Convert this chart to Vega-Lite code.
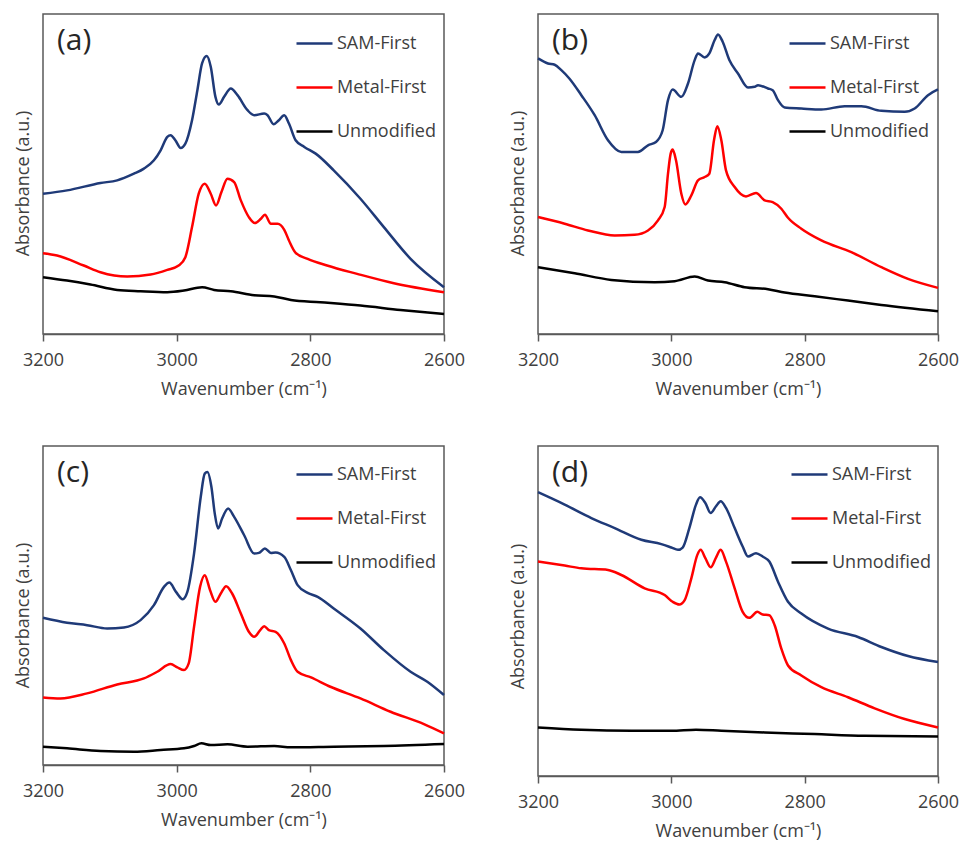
{
  "$schema": "https://vega.github.io/schema/vega-lite/v6.json",
  "background": "white",
  "padding": {"left": 13, "top": 13, "right": 5, "bottom": 2},
  "config": {
    "font": "Open Sans",
    "view": {"stroke": "#595959", "strokeWidth": 1.5},
    "axis": {"labelFont": "Open Sans", "titleFont": "Open Sans", "labelFontSize": 18, "titleFontSize": 18, "labelColor": "#404040", "titleColor": "#404040", "titleFontWeight": "normal", "domainColor": "#595959", "tickColor": "#595959", "domainWidth": 1.5, "tickWidth": 1.5, "grid": false},
    "legend": {"orient": "none", "title": null, "symbolType": "stroke", "symbolSize": 1296, "symbolStrokeWidth": 2.5, "labelFont": "Open Sans", "labelFontSize": 18, "labelColor": "#404040", "labelOffset": 3, "rowPadding": 15, "padding": 0},
    "title": {"anchor": "start", "frame": "group", "offset": -42, "dx": 14, "baseline": "top", "fontSize": 30, "fontWeight": "normal", "color": "#262626", "font": "Open Sans"},
    "line": {"strokeWidth": 2.5, "interpolate": "monotone"}
  },
  "datasets": {
    "a": [
      {"series":"SAM-First","wavenumber":3200,"absorbance":420},{"series":"SAM-First","wavenumber":3164,"absorbance":430},{"series":"SAM-First","wavenumber":3114,"absorbance":452},{"series":"SAM-First","wavenumber":3089,"absorbance":460},{"series":"SAM-First","wavenumber":3064,"absorbance":480},{"series":"SAM-First","wavenumber":3049,"absorbance":495},{"series":"SAM-First","wavenumber":3034,"absorbance":520},{"series":"SAM-First","wavenumber":3024,"absorbance":550},{"series":"SAM-First","wavenumber":3014,"absorbance":590},{"series":"SAM-First","wavenumber":3009,"absorbance":595},{"series":"SAM-First","wavenumber":3002,"absorbance":580},{"series":"SAM-First","wavenumber":2994,"absorbance":557},{"series":"SAM-First","wavenumber":2987,"absorbance":570},{"series":"SAM-First","wavenumber":2977,"absorbance":640},{"series":"SAM-First","wavenumber":2969,"absorbance":730},{"series":"SAM-First","wavenumber":2962,"absorbance":810},{"series":"SAM-First","wavenumber":2955,"absorbance":832},{"series":"SAM-First","wavenumber":2949,"absorbance":800},{"series":"SAM-First","wavenumber":2942,"absorbance":710},{"series":"SAM-First","wavenumber":2937,"absorbance":687},{"series":"SAM-First","wavenumber":2929,"absorbance":710},{"series":"SAM-First","wavenumber":2919,"absorbance":735},{"series":"SAM-First","wavenumber":2909,"absorbance":715},{"series":"SAM-First","wavenumber":2894,"absorbance":670},{"series":"SAM-First","wavenumber":2884,"absorbance":655},{"series":"SAM-First","wavenumber":2869,"absorbance":660},{"series":"SAM-First","wavenumber":2864,"absorbance":655},{"series":"SAM-First","wavenumber":2855,"absorbance":628},{"series":"SAM-First","wavenumber":2847,"absorbance":640},{"series":"SAM-First","wavenumber":2839,"absorbance":655},{"series":"SAM-First","wavenumber":2832,"absorbance":630},{"series":"SAM-First","wavenumber":2822,"absorbance":580},{"series":"SAM-First","wavenumber":2809,"absorbance":560},{"series":"SAM-First","wavenumber":2792,"absorbance":540},{"series":"SAM-First","wavenumber":2765,"absorbance":490},{"series":"SAM-First","wavenumber":2725,"absorbance":405},{"series":"SAM-First","wavenumber":2690,"absorbance":320},{"series":"SAM-First","wavenumber":2650,"absorbance":225},{"series":"SAM-First","wavenumber":2600,"absorbance":140},
      {"series":"Metal-First","wavenumber":3200,"absorbance":242},{"series":"Metal-First","wavenumber":3179,"absorbance":235},{"series":"Metal-First","wavenumber":3139,"absorbance":205},{"series":"Metal-First","wavenumber":3114,"absorbance":185},{"series":"Metal-First","wavenumber":3074,"absorbance":172},{"series":"Metal-First","wavenumber":3039,"absorbance":178},{"series":"Metal-First","wavenumber":3014,"absorbance":192},{"series":"Metal-First","wavenumber":2997,"absorbance":205},{"series":"Metal-First","wavenumber":2987,"absorbance":230},{"series":"Metal-First","wavenumber":2977,"absorbance":320},{"series":"Metal-First","wavenumber":2967,"absorbance":420},{"series":"Metal-First","wavenumber":2958,"absorbance":450},{"series":"Metal-First","wavenumber":2949,"absorbance":420},{"series":"Metal-First","wavenumber":2941,"absorbance":385},{"series":"Metal-First","wavenumber":2933,"absorbance":425},{"series":"Metal-First","wavenumber":2924,"absorbance":465},{"series":"Metal-First","wavenumber":2914,"absorbance":455},{"series":"Metal-First","wavenumber":2904,"absorbance":400},{"series":"Metal-First","wavenumber":2892,"absorbance":350},{"series":"Metal-First","wavenumber":2883,"absorbance":332},{"series":"Metal-First","wavenumber":2874,"absorbance":345},{"series":"Metal-First","wavenumber":2868,"absorbance":357},{"series":"Metal-First","wavenumber":2859,"absorbance":330},{"series":"Metal-First","wavenumber":2849,"absorbance":330},{"series":"Metal-First","wavenumber":2839,"absorbance":312},{"series":"Metal-First","wavenumber":2832,"absorbance":280},{"series":"Metal-First","wavenumber":2822,"absorbance":243},{"series":"Metal-First","wavenumber":2804,"absorbance":225},{"series":"Metal-First","wavenumber":2775,"absorbance":205},{"series":"Metal-First","wavenumber":2730,"absorbance":180},{"series":"Metal-First","wavenumber":2675,"absorbance":152},{"series":"Metal-First","wavenumber":2600,"absorbance":125},
      {"series":"Unmodified","wavenumber":3200,"absorbance":170},{"series":"Unmodified","wavenumber":3164,"absorbance":160},{"series":"Unmodified","wavenumber":3129,"absorbance":148},{"series":"Unmodified","wavenumber":3089,"absorbance":132},{"series":"Unmodified","wavenumber":3054,"absorbance":128},{"series":"Unmodified","wavenumber":3014,"absorbance":125},{"series":"Unmodified","wavenumber":2989,"absorbance":130},{"series":"Unmodified","wavenumber":2962,"absorbance":140},{"series":"Unmodified","wavenumber":2944,"absorbance":132},{"series":"Unmodified","wavenumber":2919,"absorbance":128},{"series":"Unmodified","wavenumber":2884,"absorbance":116},{"series":"Unmodified","wavenumber":2854,"absorbance":112},{"series":"Unmodified","wavenumber":2829,"absorbance":102},{"series":"Unmodified","wavenumber":2785,"absorbance":95},{"series":"Unmodified","wavenumber":2725,"absorbance":85},{"series":"Unmodified","wavenumber":2665,"absorbance":72},{"series":"Unmodified","wavenumber":2600,"absorbance":60}
    ],
    "b": [
      {"series":"SAM-First","wavenumber":3200,"absorbance":825},{"series":"SAM-First","wavenumber":3185,"absorbance":810},{"series":"SAM-First","wavenumber":3175,"absorbance":806},{"series":"SAM-First","wavenumber":3165,"absorbance":790},{"series":"SAM-First","wavenumber":3153,"absorbance":765},{"series":"SAM-First","wavenumber":3135,"absorbance":715},{"series":"SAM-First","wavenumber":3115,"absorbance":655},{"series":"SAM-First","wavenumber":3095,"absorbance":580},{"series":"SAM-First","wavenumber":3075,"absorbance":545},{"series":"SAM-First","wavenumber":3050,"absorbance":545},{"series":"SAM-First","wavenumber":3035,"absorbance":565},{"series":"SAM-First","wavenumber":3023,"absorbance":575},{"series":"SAM-First","wavenumber":3013,"absorbance":610},{"series":"SAM-First","wavenumber":3005,"absorbance":700},{"series":"SAM-First","wavenumber":2998,"absorbance":732},{"series":"SAM-First","wavenumber":2985,"absorbance":710},{"series":"SAM-First","wavenumber":2975,"absorbance":750},{"series":"SAM-First","wavenumber":2965,"absorbance":820},{"series":"SAM-First","wavenumber":2960,"absorbance":840},{"series":"SAM-First","wavenumber":2950,"absorbance":828},{"series":"SAM-First","wavenumber":2943,"absorbance":840},{"series":"SAM-First","wavenumber":2935,"absorbance":880},{"series":"SAM-First","wavenumber":2930,"absorbance":897},{"series":"SAM-First","wavenumber":2923,"absorbance":875},{"series":"SAM-First","wavenumber":2913,"absorbance":820},{"series":"SAM-First","wavenumber":2900,"absorbance":780},{"series":"SAM-First","wavenumber":2885,"absorbance":738},{"series":"SAM-First","wavenumber":2875,"absorbance":740},{"series":"SAM-First","wavenumber":2870,"absorbance":745},{"series":"SAM-First","wavenumber":2855,"absorbance":735},{"series":"SAM-First","wavenumber":2848,"absorbance":730},{"series":"SAM-First","wavenumber":2840,"absorbance":700},{"series":"SAM-First","wavenumber":2830,"absorbance":678},{"series":"SAM-First","wavenumber":2805,"absorbance":675},{"series":"SAM-First","wavenumber":2775,"absorbance":672},{"series":"SAM-First","wavenumber":2740,"absorbance":682},{"series":"SAM-First","wavenumber":2715,"absorbance":682},{"series":"SAM-First","wavenumber":2685,"absorbance":668},{"series":"SAM-First","wavenumber":2650,"absorbance":665},{"series":"SAM-First","wavenumber":2635,"absorbance":675},{"series":"SAM-First","wavenumber":2615,"absorbance":715},{"series":"SAM-First","wavenumber":2600,"absorbance":732},
      {"series":"Metal-First","wavenumber":3200,"absorbance":350},{"series":"Metal-First","wavenumber":3160,"absorbance":330},{"series":"Metal-First","wavenumber":3125,"absorbance":310},{"series":"Metal-First","wavenumber":3085,"absorbance":295},{"series":"Metal-First","wavenumber":3055,"absorbance":297},{"series":"Metal-First","wavenumber":3035,"absorbance":310},{"series":"Metal-First","wavenumber":3020,"absorbance":340},{"series":"Metal-First","wavenumber":3010,"absorbance":380},{"series":"Metal-First","wavenumber":3005,"absorbance":480},{"series":"Metal-First","wavenumber":3001,"absorbance":540},{"series":"Metal-First","wavenumber":2998,"absorbance":552},{"series":"Metal-First","wavenumber":2993,"absorbance":520},{"series":"Metal-First","wavenumber":2985,"absorbance":420},{"series":"Metal-First","wavenumber":2979,"absorbance":388},{"series":"Metal-First","wavenumber":2970,"absorbance":415},{"series":"Metal-First","wavenumber":2960,"absorbance":460},{"series":"Metal-First","wavenumber":2950,"absorbance":470},{"series":"Metal-First","wavenumber":2943,"absorbance":480},{"series":"Metal-First","wavenumber":2936,"absorbance":580},{"series":"Metal-First","wavenumber":2931,"absorbance":622},{"series":"Metal-First","wavenumber":2925,"absorbance":580},{"series":"Metal-First","wavenumber":2918,"absorbance":490},{"series":"Metal-First","wavenumber":2905,"absorbance":440},{"series":"Metal-First","wavenumber":2888,"absorbance":412},{"series":"Metal-First","wavenumber":2873,"absorbance":422},{"series":"Metal-First","wavenumber":2860,"absorbance":400},{"series":"Metal-First","wavenumber":2848,"absorbance":395},{"series":"Metal-First","wavenumber":2835,"absorbance":375},{"series":"Metal-First","wavenumber":2825,"absorbance":348},{"series":"Metal-First","wavenumber":2805,"absorbance":315},{"series":"Metal-First","wavenumber":2775,"absorbance":280},{"series":"Metal-First","wavenumber":2730,"absorbance":245},{"series":"Metal-First","wavenumber":2685,"absorbance":200},{"series":"Metal-First","wavenumber":2645,"absorbance":165},{"series":"Metal-First","wavenumber":2600,"absorbance":138},
      {"series":"Unmodified","wavenumber":3200,"absorbance":200},{"series":"Unmodified","wavenumber":3145,"absorbance":182},{"series":"Unmodified","wavenumber":3090,"absorbance":162},{"series":"Unmodified","wavenumber":3025,"absorbance":155},{"series":"Unmodified","wavenumber":2995,"absorbance":158},{"series":"Unmodified","wavenumber":2965,"absorbance":172},{"series":"Unmodified","wavenumber":2945,"absorbance":160},{"series":"Unmodified","wavenumber":2920,"absorbance":155},{"series":"Unmodified","wavenumber":2890,"absorbance":140},{"series":"Unmodified","wavenumber":2855,"absorbance":134},{"series":"Unmodified","wavenumber":2830,"absorbance":124},{"series":"Unmodified","wavenumber":2785,"absorbance":113},{"series":"Unmodified","wavenumber":2735,"absorbance":100},{"series":"Unmodified","wavenumber":2685,"absorbance":87},{"series":"Unmodified","wavenumber":2600,"absorbance":68}
    ],
    "c": [
      {"series":"SAM-First","wavenumber":3200,"absorbance":442},{"series":"SAM-First","wavenumber":3164,"absorbance":427},{"series":"SAM-First","wavenumber":3134,"absorbance":420},{"series":"SAM-First","wavenumber":3104,"absorbance":410},{"series":"SAM-First","wavenumber":3079,"absorbance":413},{"series":"SAM-First","wavenumber":3054,"absorbance":435},{"series":"SAM-First","wavenumber":3034,"absorbance":480},{"series":"SAM-First","wavenumber":3019,"absorbance":535},{"series":"SAM-First","wavenumber":3011,"absorbance":548},{"series":"SAM-First","wavenumber":3001,"absorbance":520},{"series":"SAM-First","wavenumber":2991,"absorbance":498},{"series":"SAM-First","wavenumber":2984,"absorbance":520},{"series":"SAM-First","wavenumber":2974,"absorbance":635},{"series":"SAM-First","wavenumber":2964,"absorbance":805},{"series":"SAM-First","wavenumber":2958,"absorbance":875},{"series":"SAM-First","wavenumber":2954,"absorbance":880},{"series":"SAM-First","wavenumber":2948,"absorbance":835},{"series":"SAM-First","wavenumber":2943,"absorbance":755},{"series":"SAM-First","wavenumber":2938,"absorbance":710},{"series":"SAM-First","wavenumber":2932,"absorbance":740},{"series":"SAM-First","wavenumber":2923,"absorbance":770},{"series":"SAM-First","wavenumber":2914,"absorbance":745},{"series":"SAM-First","wavenumber":2899,"absorbance":690},{"series":"SAM-First","wavenumber":2884,"absorbance":635},{"series":"SAM-First","wavenumber":2877,"absorbance":637},{"series":"SAM-First","wavenumber":2868,"absorbance":650},{"series":"SAM-First","wavenumber":2859,"absorbance":637},{"series":"SAM-First","wavenumber":2852,"absorbance":638},{"series":"SAM-First","wavenumber":2839,"absorbance":625},{"series":"SAM-First","wavenumber":2829,"absorbance":585},{"series":"SAM-First","wavenumber":2819,"absorbance":540},{"series":"SAM-First","wavenumber":2804,"absorbance":517},{"series":"SAM-First","wavenumber":2789,"absorbance":505},{"series":"SAM-First","wavenumber":2765,"absorbance":470},{"series":"SAM-First","wavenumber":2725,"absorbance":410},{"series":"SAM-First","wavenumber":2690,"absorbance":345},{"series":"SAM-First","wavenumber":2650,"absorbance":280},{"series":"SAM-First","wavenumber":2625,"absorbance":250},{"series":"SAM-First","wavenumber":2600,"absorbance":210},
      {"series":"Metal-First","wavenumber":3200,"absorbance":203},{"series":"Metal-First","wavenumber":3174,"absorbance":200},{"series":"Metal-First","wavenumber":3134,"absorbance":215},{"series":"Metal-First","wavenumber":3089,"absorbance":242},{"series":"Metal-First","wavenumber":3049,"absorbance":260},{"series":"Metal-First","wavenumber":3029,"absorbance":280},{"series":"Metal-First","wavenumber":3009,"absorbance":303},{"series":"Metal-First","wavenumber":2999,"absorbance":293},{"series":"Metal-First","wavenumber":2989,"absorbance":285},{"series":"Metal-First","wavenumber":2982,"absorbance":305},{"series":"Metal-First","wavenumber":2974,"absorbance":415},{"series":"Metal-First","wavenumber":2965,"absorbance":535},{"series":"Metal-First","wavenumber":2958,"absorbance":570},{"series":"Metal-First","wavenumber":2950,"absorbance":525},{"series":"Metal-First","wavenumber":2942,"absorbance":490},{"series":"Metal-First","wavenumber":2934,"absorbance":515},{"series":"Metal-First","wavenumber":2926,"absorbance":537},{"series":"Metal-First","wavenumber":2917,"absorbance":515},{"series":"Metal-First","wavenumber":2904,"absorbance":455},{"series":"Metal-First","wavenumber":2892,"absorbance":400},{"series":"Metal-First","wavenumber":2884,"absorbance":385},{"series":"Metal-First","wavenumber":2875,"absorbance":405},{"series":"Metal-First","wavenumber":2869,"absorbance":417},{"series":"Metal-First","wavenumber":2862,"absorbance":405},{"series":"Metal-First","wavenumber":2852,"absorbance":400},{"series":"Metal-First","wavenumber":2839,"absorbance":365},{"series":"Metal-First","wavenumber":2829,"absorbance":315},{"series":"Metal-First","wavenumber":2819,"absorbance":280},{"series":"Metal-First","wavenumber":2799,"absorbance":263},{"series":"Metal-First","wavenumber":2770,"absorbance":235},{"series":"Metal-First","wavenumber":2725,"absorbance":200},{"series":"Metal-First","wavenumber":2680,"absorbance":160},{"series":"Metal-First","wavenumber":2630,"absorbance":123},{"series":"Metal-First","wavenumber":2600,"absorbance":95},
      {"series":"Unmodified","wavenumber":3200,"absorbance":55},{"series":"Unmodified","wavenumber":3164,"absorbance":50},{"series":"Unmodified","wavenumber":3114,"absorbance":42},{"series":"Unmodified","wavenumber":3064,"absorbance":40},{"series":"Unmodified","wavenumber":3024,"absorbance":45},{"series":"Unmodified","wavenumber":2989,"absorbance":50},{"series":"Unmodified","wavenumber":2974,"absorbance":57},{"series":"Unmodified","wavenumber":2963,"absorbance":65},{"series":"Unmodified","wavenumber":2949,"absorbance":60},{"series":"Unmodified","wavenumber":2924,"absorbance":62},{"series":"Unmodified","wavenumber":2894,"absorbance":55},{"series":"Unmodified","wavenumber":2854,"absorbance":57},{"series":"Unmodified","wavenumber":2829,"absorbance":53},{"series":"Unmodified","wavenumber":2765,"absorbance":55},{"series":"Unmodified","wavenumber":2690,"absorbance":57},{"series":"Unmodified","wavenumber":2600,"absorbance":63}
    ],
    "d": [
      {"series":"SAM-First","wavenumber":3200,"absorbance":847},{"series":"SAM-First","wavenumber":3160,"absorbance":810},{"series":"SAM-First","wavenumber":3120,"absorbance":770},{"series":"SAM-First","wavenumber":3085,"absorbance":740},{"series":"SAM-First","wavenumber":3045,"absorbance":705},{"series":"SAM-First","wavenumber":3015,"absorbance":692},{"series":"SAM-First","wavenumber":3000,"absorbance":682},{"series":"SAM-First","wavenumber":2990,"absorbance":675},{"series":"SAM-First","wavenumber":2983,"absorbance":682},{"series":"SAM-First","wavenumber":2973,"absorbance":740},{"series":"SAM-First","wavenumber":2963,"absorbance":810},{"series":"SAM-First","wavenumber":2957,"absorbance":832},{"series":"SAM-First","wavenumber":2949,"absorbance":815},{"series":"SAM-First","wavenumber":2941,"absorbance":785},{"series":"SAM-First","wavenumber":2933,"absorbance":805},{"series":"SAM-First","wavenumber":2926,"absorbance":820},{"series":"SAM-First","wavenumber":2918,"absorbance":800},{"series":"SAM-First","wavenumber":2905,"absorbance":740},{"series":"SAM-First","wavenumber":2893,"absorbance":685},{"series":"SAM-First","wavenumber":2885,"absorbance":655},{"series":"SAM-First","wavenumber":2873,"absorbance":665},{"series":"SAM-First","wavenumber":2863,"absorbance":655},{"series":"SAM-First","wavenumber":2853,"absorbance":640},{"series":"SAM-First","wavenumber":2840,"absorbance":580},{"series":"SAM-First","wavenumber":2825,"absorbance":520},{"series":"SAM-First","wavenumber":2805,"absorbance":485},{"series":"SAM-First","wavenumber":2765,"absorbance":440},{"series":"SAM-First","wavenumber":2720,"absorbance":415},{"series":"SAM-First","wavenumber":2685,"absorbance":385},{"series":"SAM-First","wavenumber":2645,"absorbance":358},{"series":"SAM-First","wavenumber":2600,"absorbance":340},
      {"series":"Metal-First","wavenumber":3200,"absorbance":640},{"series":"Metal-First","wavenumber":3160,"absorbance":628},{"series":"Metal-First","wavenumber":3135,"absorbance":620},{"series":"Metal-First","wavenumber":3095,"absorbance":615},{"series":"Metal-First","wavenumber":3075,"absorbance":600},{"series":"Metal-First","wavenumber":3040,"absorbance":560},{"series":"Metal-First","wavenumber":3010,"absorbance":540},{"series":"Metal-First","wavenumber":2998,"absorbance":520},{"series":"Metal-First","wavenumber":2988,"absorbance":512},{"series":"Metal-First","wavenumber":2980,"absorbance":525},{"series":"Metal-First","wavenumber":2970,"absorbance":590},{"series":"Metal-First","wavenumber":2961,"absorbance":660},{"series":"Metal-First","wavenumber":2956,"absorbance":675},{"series":"Metal-First","wavenumber":2949,"absorbance":650},{"series":"Metal-First","wavenumber":2941,"absorbance":623},{"series":"Metal-First","wavenumber":2933,"absorbance":652},{"series":"Metal-First","wavenumber":2926,"absorbance":675},{"series":"Metal-First","wavenumber":2918,"absorbance":640},{"series":"Metal-First","wavenumber":2905,"absorbance":560},{"series":"Metal-First","wavenumber":2893,"absorbance":490},{"series":"Metal-First","wavenumber":2883,"absorbance":472},{"series":"Metal-First","wavenumber":2871,"absorbance":490},{"series":"Metal-First","wavenumber":2863,"absorbance":482},{"series":"Metal-First","wavenumber":2853,"absorbance":480},{"series":"Metal-First","wavenumber":2845,"absorbance":450},{"series":"Metal-First","wavenumber":2835,"absorbance":380},{"series":"Metal-First","wavenumber":2825,"absorbance":330},{"series":"Metal-First","wavenumber":2805,"absorbance":300},{"series":"Metal-First","wavenumber":2775,"absorbance":265},{"series":"Metal-First","wavenumber":2735,"absorbance":235},{"series":"Metal-First","wavenumber":2695,"absorbance":202},{"series":"Metal-First","wavenumber":2650,"absorbance":170},{"series":"Metal-First","wavenumber":2600,"absorbance":145},
      {"series":"Unmodified","wavenumber":3200,"absorbance":145},{"series":"Unmodified","wavenumber":3135,"absorbance":138},{"series":"Unmodified","wavenumber":3060,"absorbance":135},{"series":"Unmodified","wavenumber":3000,"absorbance":135},{"series":"Unmodified","wavenumber":2963,"absorbance":138},{"series":"Unmodified","wavenumber":2925,"absorbance":135},{"series":"Unmodified","wavenumber":2860,"absorbance":130},{"series":"Unmodified","wavenumber":2785,"absorbance":125},{"series":"Unmodified","wavenumber":2710,"absorbance":120},{"series":"Unmodified","wavenumber":2600,"absorbance":118}
    ]
  },
  "columns": 2,
  "spacing": {"row": 112, "column": 94},
  "bounds": "flush",
  "resolve": {"scale": {"color": "independent", "x": "independent", "y": "independent"}, "legend": {"color": "independent"}},
  "concat": [
    {
      "data": {"name": "a"},
      "width": 401, "height": 320,
      "title": {"text": "(a)"},
      "mark": {"type": "line"},
      "encoding": {
        "x": {"field": "wavenumber", "type": "quantitative", "scale": {"domain": [2600, 3200], "reverse": true, "nice": false, "zero": false}, "axis": {"values": [3200, 3000, 2800, 2600], "format": "d", "title": "Wavenumber (cm⁻¹)", "tickSize": 7, "labelPadding": 10, "titlePadding": 11, "labelFlush": false}},
        "y": {"field": "absorbance", "type": "quantitative", "scale": {"domain": [0, 958]}, "axis": {"title": "Absorbance (a.u.)", "labels": false, "ticks": false, "domain": false, "titlePadding": 11, "titleY": 169}},
        "color": {"field": "series", "type": "nominal", "scale": {"domain": ["SAM-First", "Metal-First", "Unmodified"], "range": ["#1f3a78", "#ff0000", "#000000"]}, "legend": {"legendX": 252, "legendY": 10}}
      }
    },
    {
      "data": {"name": "b"},
      "width": 400, "height": 320,
      "title": {"text": "(b)"},
      "mark": {"type": "line"},
      "encoding": {
        "x": {"field": "wavenumber", "type": "quantitative", "scale": {"domain": [2600, 3200], "reverse": true, "nice": false, "zero": false}, "axis": {"values": [3200, 3000, 2800, 2600], "format": "d", "title": "Wavenumber (cm⁻¹)", "tickSize": 7, "labelPadding": 10, "titlePadding": 11, "labelFlush": false}},
        "y": {"field": "absorbance", "type": "quantitative", "scale": {"domain": [0, 958]}, "axis": {"title": "Absorbance (a.u.)", "labels": false, "ticks": false, "domain": false, "titlePadding": 11, "titleY": 169}},
        "color": {"field": "series", "type": "nominal", "scale": {"domain": ["SAM-First", "Metal-First", "Unmodified"], "range": ["#1f3a78", "#ff0000", "#000000"]}, "legend": {"legendX": 250, "legendY": 10}}
      }
    },
    {
      "data": {"name": "c"},
      "width": 401, "height": 319,
      "title": {"text": "(c)"},
      "mark": {"type": "line"},
      "encoding": {
        "x": {"field": "wavenumber", "type": "quantitative", "scale": {"domain": [2600, 3200], "reverse": true, "nice": false, "zero": false}, "axis": {"values": [3200, 3000, 2800, 2600], "format": "d", "title": "Wavenumber (cm⁻¹)", "tickSize": 7, "labelPadding": 10, "titlePadding": 11, "labelFlush": false}},
        "y": {"field": "absorbance", "type": "quantitative", "scale": {"domain": [0, 958]}, "axis": {"title": "Absorbance (a.u.)", "labels": false, "ticks": false, "domain": false, "titlePadding": 11, "titleY": 169}},
        "color": {"field": "series", "type": "nominal", "scale": {"domain": ["SAM-First", "Metal-First", "Unmodified"], "range": ["#1f3a78", "#ff0000", "#000000"]}, "legend": {"legendX": 252, "legendY": 9}}
      }
    },
    {
      "data": {"name": "d"},
      "width": 400, "height": 330,
      "title": {"text": "(d)"},
      "mark": {"type": "line"},
      "encoding": {
        "x": {"field": "wavenumber", "type": "quantitative", "scale": {"domain": [2600, 3200], "reverse": true, "nice": false, "zero": false}, "axis": {"values": [3200, 3000, 2800, 2600], "format": "d", "title": "Wavenumber (cm⁻¹)", "tickSize": 7, "labelPadding": 10, "titlePadding": 11, "labelFlush": false}},
        "y": {"field": "absorbance", "type": "quantitative", "scale": {"domain": [0, 985]}, "axis": {"title": "Absorbance (a.u.)", "labels": false, "ticks": false, "domain": false, "titlePadding": 11, "titleY": 170}},
        "color": {"field": "series", "type": "nominal", "scale": {"domain": ["SAM-First", "Metal-First", "Unmodified"], "range": ["#1f3a78", "#ff0000", "#000000"]}, "legend": {"legendX": 252, "legendY": 9}}
      }
    }
  ]
}
